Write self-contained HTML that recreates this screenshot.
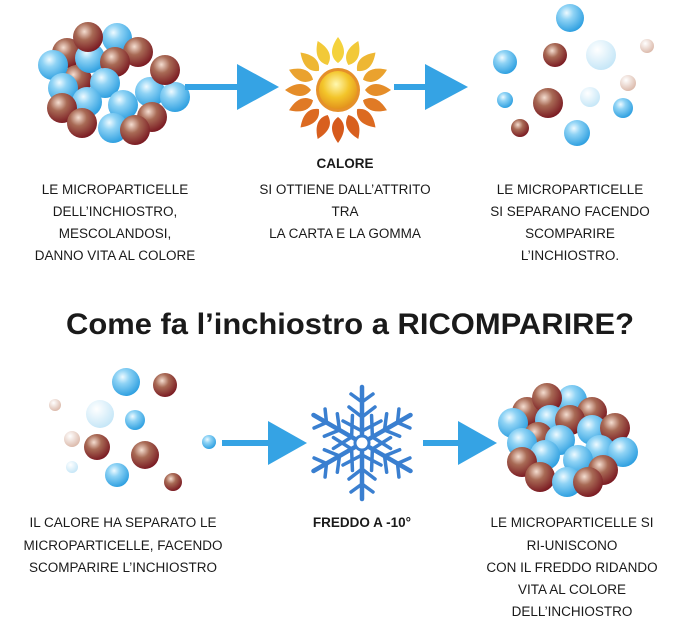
<!DOCTYPE html>
<html><head><meta charset="utf-8"><style>
body{margin:0;background:#fff;}
svg{display:block}
text{font-family:"Liberation Sans",sans-serif;fill:#1a1a1a}
.t{font-size:13.5px;text-anchor:middle}
.b{font-weight:bold}
</style></head><body>
<svg width="700" height="620" viewBox="0 0 700 620" xmlns="http://www.w3.org/2000/svg">
<defs>
<radialGradient id="bl" cx="0.38" cy="0.32" r="0.7"><stop offset="0" stop-color="#eefaff"/><stop offset="0.35" stop-color="#8fd3f5"/><stop offset="1" stop-color="#2d9fe0"/></radialGradient>
<radialGradient id="br" cx="0.38" cy="0.32" r="0.7"><stop offset="0" stop-color="#f4ddd0"/><stop offset="0.4" stop-color="#a86a55"/><stop offset="1" stop-color="#7a1a22"/></radialGradient>
<radialGradient id="lb" cx="0.38" cy="0.32" r="0.7"><stop offset="0" stop-color="#fff"/><stop offset="1" stop-color="#c5e6f7"/></radialGradient>
<radialGradient id="lr" cx="0.38" cy="0.32" r="0.7"><stop offset="0" stop-color="#fff"/><stop offset="1" stop-color="#dbb9aa"/></radialGradient>
<radialGradient id="sc" cx="0.45" cy="0.35" r="0.7"><stop offset="0" stop-color="#fff8b0"/><stop offset="0.5" stop-color="#f3c52a"/><stop offset="1" stop-color="#e08a1a"/></radialGradient>
<path id="p" d="M0,-53 C8,-42 8,-33 0,-27 C-8,-33 -8,-42 0,-53Z"/>
</defs>
<g>
<circle cx="67" cy="53" r="15" fill="url(#br)"/><circle cx="117" cy="38" r="15" fill="url(#bl)"/><circle cx="138" cy="52" r="15" fill="url(#br)"/>
<circle cx="77" cy="80" r="15" fill="url(#br)"/><circle cx="53" cy="65" r="15" fill="url(#bl)"/><circle cx="90" cy="58" r="15" fill="url(#bl)"/>
<circle cx="88" cy="37" r="15" fill="url(#br)"/><circle cx="115" cy="62" r="15" fill="url(#br)"/>
<circle cx="63" cy="88" r="15" fill="url(#bl)"/><circle cx="105" cy="83" r="15" fill="url(#bl)"/><circle cx="150" cy="92" r="15" fill="url(#bl)"/>
<circle cx="175" cy="97" r="15" fill="url(#bl)"/><circle cx="165" cy="70" r="15" fill="url(#br)"/>
<circle cx="87" cy="102" r="15" fill="url(#bl)"/><circle cx="123" cy="105" r="15" fill="url(#bl)"/>
<circle cx="152" cy="117" r="15" fill="url(#br)"/><circle cx="62" cy="108" r="15" fill="url(#br)"/><circle cx="82" cy="123" r="15" fill="url(#br)"/>
<circle cx="113" cy="128" r="15" fill="url(#bl)"/><circle cx="135" cy="130" r="15" fill="url(#br)"/>
</g>
<g fill="#35a3e4">
<rect x="185" y="84" width="55" height="6"/><polygon points="237,64 279,87 237,110"/>
<rect x="394" y="84" width="33" height="6"/><polygon points="425,64 468,87 425,110"/>
<rect x="222" y="440" width="50" height="6"/><polygon points="268,421 307,443 268,465"/>
<rect x="423" y="440" width="38" height="6"/><polygon points="458,421 497,443 458,465"/>
</g>
<g transform="translate(338,90)">
<use href="#p" fill="#f4d23c"/>
<use href="#p" fill="#f2c938" transform="rotate(22.5)"/><use href="#p" fill="#eeb733" transform="rotate(45)"/><use href="#p" fill="#eaa22e" transform="rotate(67.5)"/>
<use href="#p" fill="#e58d29" transform="rotate(90)"/><use href="#p" fill="#e07a25" transform="rotate(112.5)"/><use href="#p" fill="#dc6a21" transform="rotate(135)"/>
<use href="#p" fill="#d85f1e" transform="rotate(157.5)"/><use href="#p" fill="#d65a1c" transform="rotate(180)"/><use href="#p" fill="#d85f1e" transform="rotate(202.5)"/>
<use href="#p" fill="#dc6a21" transform="rotate(225)"/><use href="#p" fill="#e07a25" transform="rotate(247.5)"/><use href="#p" fill="#e58d29" transform="rotate(270)"/>
<use href="#p" fill="#eaa22e" transform="rotate(292.5)"/><use href="#p" fill="#eeb733" transform="rotate(315)"/><use href="#p" fill="#f2c938" transform="rotate(337.5)"/>
<circle r="24" fill="#fff"/>
<circle r="22" fill="#e5902a"/>
<circle r="19" fill="url(#sc)"/>
</g>
<g>
<circle cx="570" cy="18" r="14" fill="url(#bl)"/><circle cx="555" cy="55" r="12" fill="url(#br)"/><circle cx="601" cy="55" r="15" fill="url(#lb)"/>
<circle cx="647" cy="46" r="7" fill="url(#lr)"/><circle cx="505" cy="62" r="12" fill="url(#bl)"/><circle cx="548" cy="103" r="15" fill="url(#br)"/>
<circle cx="505" cy="100" r="8" fill="url(#bl)"/><circle cx="628" cy="83" r="8" fill="url(#lr)"/><circle cx="590" cy="97" r="10" fill="url(#lb)"/>
<circle cx="623" cy="108" r="10" fill="url(#bl)"/><circle cx="520" cy="128" r="9" fill="url(#br)"/><circle cx="577" cy="133" r="13" fill="url(#bl)"/>
</g>
<g>
<circle cx="126" cy="382" r="14" fill="url(#bl)"/><circle cx="165" cy="385" r="12" fill="url(#br)"/><circle cx="100" cy="414" r="14" fill="url(#lb)"/>
<circle cx="55" cy="405" r="6" fill="url(#lr)"/><circle cx="135" cy="420" r="10" fill="url(#bl)"/><circle cx="97" cy="447" r="13" fill="url(#br)"/>
<circle cx="145" cy="455" r="14" fill="url(#br)"/><circle cx="72" cy="439" r="8" fill="url(#lr)"/><circle cx="72" cy="467" r="6" fill="url(#lb)"/>
<circle cx="209" cy="442" r="7" fill="url(#bl)"/><circle cx="117" cy="475" r="12" fill="url(#bl)"/><circle cx="173" cy="482" r="9" fill="url(#br)"/>
</g>
<g transform="translate(362,443)" stroke="#3a7fd0" stroke-linecap="round" fill="none">
<g stroke-width="4.5">
<line x1="0" y1="-56" x2="0" y2="56"/><line x1="0" y1="-56" x2="0" y2="56" transform="rotate(60)"/><line x1="0" y1="-56" x2="0" y2="56" transform="rotate(120)"/>
</g>
<g stroke-width="3.5">
<path id="a" d="M-13,-36 L0,-26 L13,-36 M-11,-49 L0,-41 L11,-49 M-19,-22 L0,-12 L19,-22"/>
<use href="#a" transform="rotate(60)"/><use href="#a" transform="rotate(120)"/><use href="#a" transform="rotate(180)"/>
<use href="#a" transform="rotate(240)"/><use href="#a" transform="rotate(300)"/>
</g>
<circle r="7" fill="#fff" stroke-width="3"/>
</g>
<g>
<circle cx="527" cy="412" r="15" fill="url(#br)"/><circle cx="572" cy="400" r="15" fill="url(#bl)"/><circle cx="547" cy="398" r="15" fill="url(#br)"/>
<circle cx="513" cy="423" r="15" fill="url(#bl)"/><circle cx="550" cy="420" r="15" fill="url(#bl)"/><circle cx="592" cy="412" r="15" fill="url(#br)"/>
<circle cx="570" cy="420" r="15" fill="url(#br)"/><circle cx="538" cy="437" r="15" fill="url(#br)"/><circle cx="592" cy="430" r="15" fill="url(#bl)"/>
<circle cx="615" cy="428" r="15" fill="url(#br)"/><circle cx="522" cy="443" r="15" fill="url(#bl)"/><circle cx="560" cy="440" r="15" fill="url(#bl)"/>
<circle cx="600" cy="450" r="15" fill="url(#bl)"/><circle cx="623" cy="452" r="15" fill="url(#bl)"/><circle cx="545" cy="455" r="15" fill="url(#bl)"/>
<circle cx="578" cy="460" r="15" fill="url(#bl)"/><circle cx="522" cy="462" r="15" fill="url(#br)"/><circle cx="603" cy="470" r="15" fill="url(#br)"/>
<circle cx="540" cy="477" r="15" fill="url(#br)"/><circle cx="567" cy="482" r="15" fill="url(#bl)"/><circle cx="588" cy="482" r="15" fill="url(#br)"/>
</g>
<text class="t" x="115" y="194">LE MICROPARTICELLE</text>
<text class="t" x="115" y="216">DELL’INCHIOSTRO,</text>
<text class="t" x="115" y="238">MESCOLANDOSI,</text>
<text class="t" x="115" y="260">DANNO VITA AL COLORE</text>
<text class="t b" x="345" y="168">CALORE</text>
<text class="t" x="345" y="194">SI OTTIENE DALL’ATTRITO</text>
<text class="t" x="345" y="216">TRA</text>
<text class="t" x="345" y="238">LA CARTA E LA GOMMA</text>
<text class="t" x="570" y="194">LE MICROPARTICELLE</text>
<text class="t" x="570" y="216">SI SEPARANO FACENDO</text>
<text class="t" x="570" y="238">SCOMPARIRE</text>
<text class="t" x="570" y="260">L’INCHIOSTRO.</text>
<text x="350" y="334" text-anchor="middle" font-size="30" font-weight="bold" textLength="568" lengthAdjust="spacingAndGlyphs">Come fa l’inchiostro a RICOMPARIRE?</text>
<text class="t" x="123" y="527">IL CALORE HA SEPARATO LE</text>
<text class="t" x="123" y="550">MICROPARTICELLE, FACENDO</text>
<text class="t" x="123" y="572">SCOMPARIRE L’INCHIOSTRO</text>
<text class="t b" x="362" y="527">FREDDO A -10°</text>
<text class="t" x="572" y="527">LE MICROPARTICELLE SI</text>
<text class="t" x="572" y="550">RI-UNISCONO</text>
<text class="t" x="572" y="572">CON IL FREDDO RIDANDO</text>
<text class="t" x="572" y="594">VITA AL COLORE</text>
<text class="t" x="572" y="616">DELL’INCHIOSTRO</text>
</svg>
</body></html>
